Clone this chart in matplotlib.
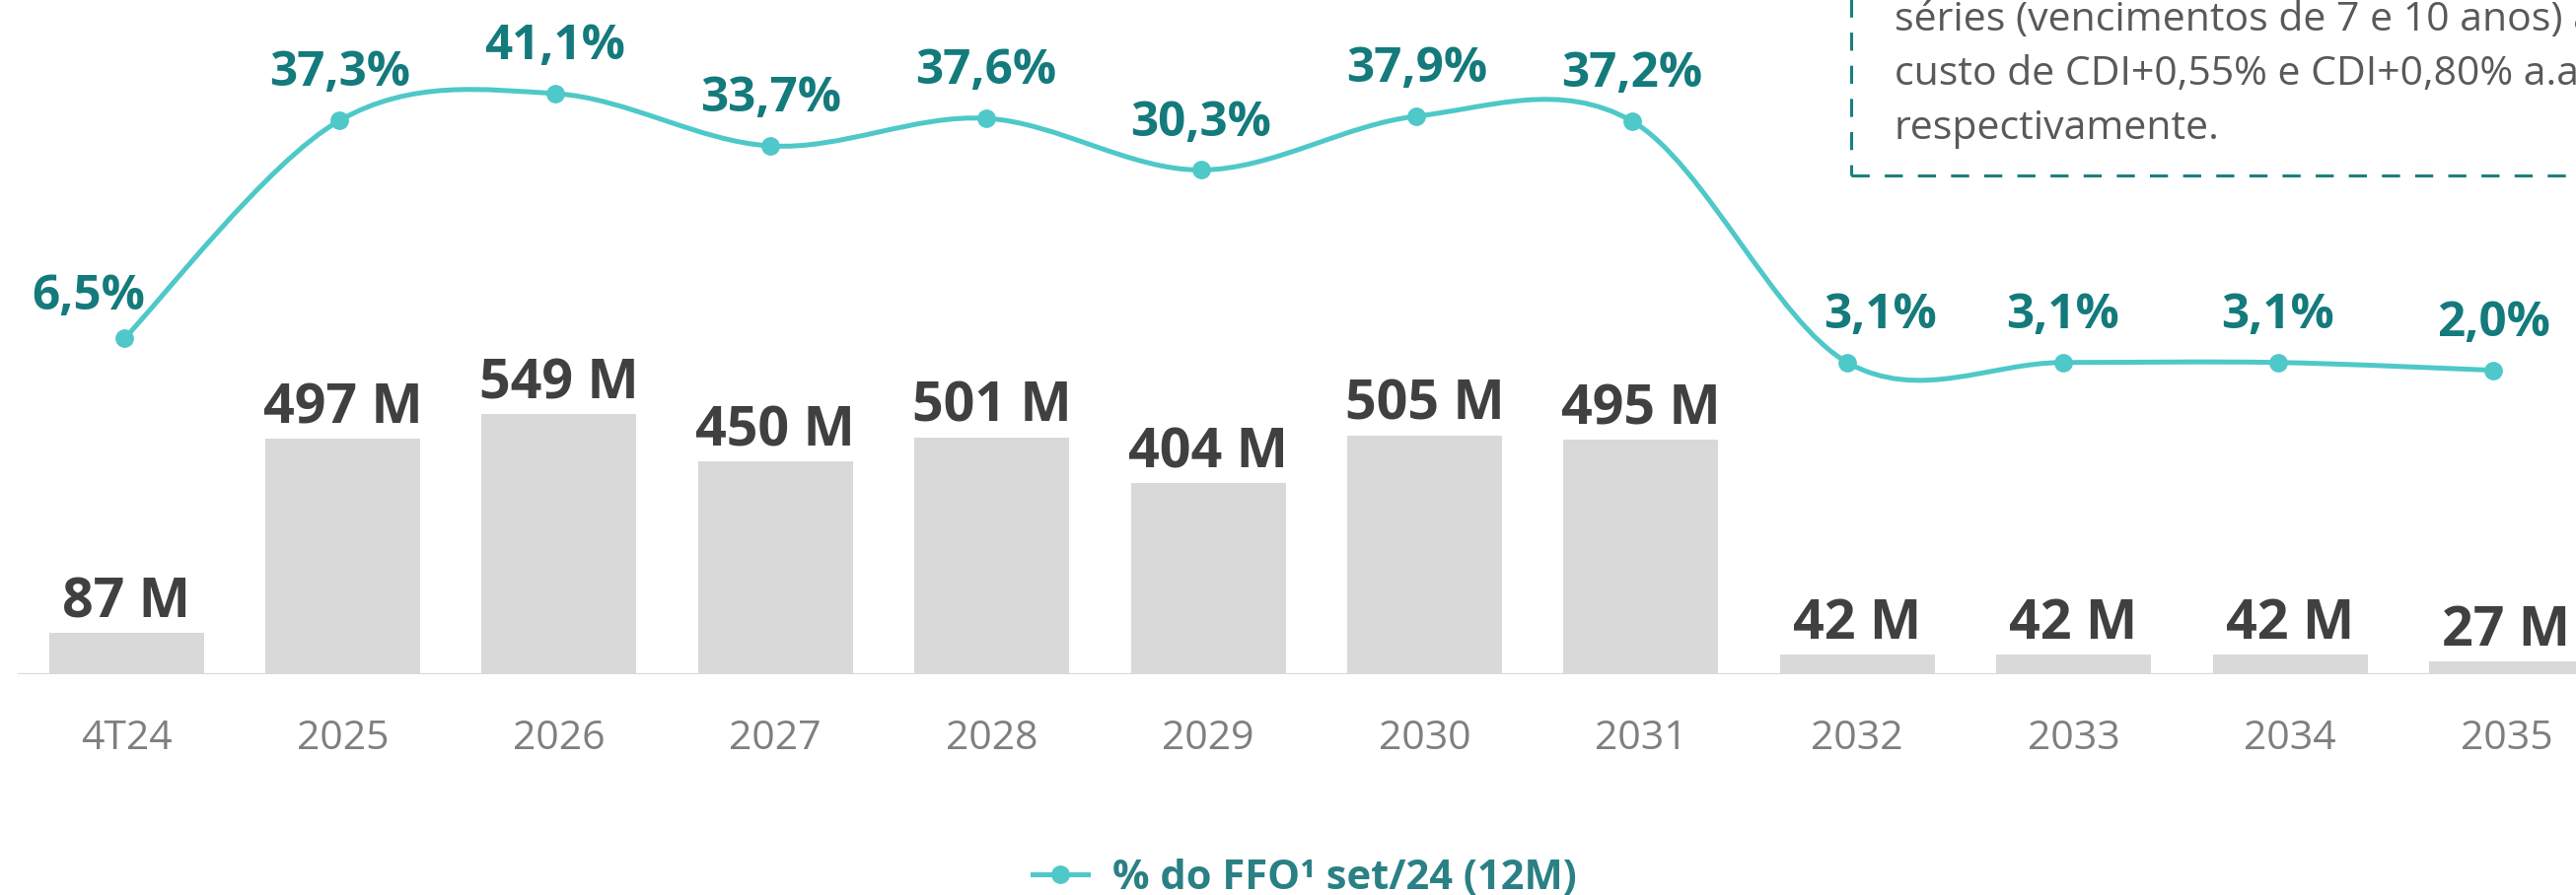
import numpy as np
import matplotlib
matplotlib.use("Agg")
import matplotlib.pyplot as plt
from matplotlib.path import Path
from matplotlib.patches import PathPatch, Rectangle
from matplotlib.lines import Line2D

plt.rcParams["font.family"] = ["Open Sans", "DejaVu Sans"]

# data
periods = ["4T24", "2025", "2026", "2027", "2028", "2029",
           "2030", "2031", "2032", "2033", "2034", "2035"]
amort_m = [87, 497, 549, 450, 501, 404, 505, 495, 42, 42, 42, 27]
ffo_pct = [6.5, 37.3, 41.1, 33.7, 37.6, 30.3, 37.9, 37.2, 3.1, 3.1, 3.1, 2.0]

note_lines = ["séries (vencimentos de 7 e 10 anos) ao",
              "custo de CDI+0,55% e CDI+0,80% a.a.,",
              "respectivamente."]
legend_label = "% do FFO¹ set/24 (12M)"

# colors
C = {
    "bar":   "#D9D9D9",
    "axis":  "#D9D9D9",
    "line":  "#4EC8C8",
    "pct":   "#147A7C",
    "val":   "#404040",
    "tick":  "#7F7F7F",
    "note":  "#595959",
    "box":   "#1A8080",
    "leg":   "#2A8084",
}

W, H = 2612, 908
fig = plt.figure(figsize=(W / 100, H / 100), dpi=100)
fig.patch.set_facecolor("white")

base_px = 684
rect = [0, (H - base_px) / H, 1, base_px / H]
ax = fig.add_axes(rect)
x = np.arange(len(periods))
step = 219.4
ax.set_xlim(-128 / step, (W - 128) / step)
ax.set_ylim(0, base_px / 0.48)

ax.bar(x, amort_m, width=157 / step, color=C["bar"], zorder=2)
ax.axhline(0, xmin=19 / W, xmax=1, color=C["axis"], lw=1.6, zorder=3)

for xi, v in zip(x, amort_m):
    ax.annotate(f"{v} M", (xi, v), xytext=(0, 2), textcoords="offset points",
                ha="center", va="bottom", fontsize=40, fontweight="bold",
                color=C["val"], zorder=5)

ax.set_xticks(x)
ax.set_xticklabels(periods, fontsize=29.5, color=C["tick"])
ax.tick_params(axis="x", length=0, pad=33)
ax.set_yticks([])
for s in ax.spines.values():
    s.set_visible(False)
ax.patch.set_alpha(0)

# line on its own overlay axes (slightly narrower x scale, as in the source)
ax2 = fig.add_axes(rect)
ax2.patch.set_alpha(0)
lstep = 218.4
ax2.set_xlim(-126 / lstep, (W - 126) / lstep)
ax2.set_ylim(-294 / 7.18, 390 / 7.18)
ax2.axis("off")

# Excel-like smoothing: Catmull-Rom as cubic Bezier
pts = np.column_stack([x, ffo_pct]).astype(float)
ext = np.vstack([pts[0], pts, pts[-1]])
verts = [tuple(pts[0])]
codes = [Path.MOVETO]
for i in range(len(pts) - 1):
    p0, p1, p2, p3 = ext[i], ext[i + 1], ext[i + 2], ext[i + 3]
    verts += [tuple(p1 + (p2 - p0) / 6), tuple(p2 - (p3 - p1) / 6), tuple(p2)]
    codes += [Path.CURVE4] * 3
ax2.add_patch(PathPatch(Path(verts, codes), fill=False, edgecolor=C["line"],
                        lw=3.6, capstyle="round", zorder=4))
ax2.plot(x, ffo_pct, "o", color=C["line"], ms=12.5, zorder=5)

offsets = {0: (-26, 30), 8: (24, 34)}
for i, (xi, v) in enumerate(zip(x, ffo_pct)):
    dx, dy = offsets.get(i, (0, 34))
    ax2.annotate(f"{v:.1f}%".replace(".", ","), (xi, v), xytext=(dx, dy),
                 textcoords="offset points", ha="center", va="center",
                 fontsize=35.5, fontweight="bold", color=C["pct"], zorder=6)

# legend
handle = Line2D([], [], color=C["line"], lw=3.6, marker="o", ms=12.5)
fig.legend([handle], [legend_label], loc="center",
           bbox_to_anchor=(1323 / W, 17 / H), frameon=False,
           prop=dict(size=30, weight="bold"), labelcolor=C["leg"],
           handlelength=1.35, handletextpad=0.6)

# dashed note box, cut by the figure edge like in the source slide
fig.patches.append(Rectangle((1877 / W, (H - 178) / H), 0.4, 0.3,
                             transform=fig.transFigure, fill=False,
                             edgecolor=C["box"], lw=2.2,
                             linestyle=(0, (6, 5)), zorder=1))
for k, line in enumerate(note_lines):
    fig.text(1921 / W, (H - 31 - 55 * k) / H, line, fontsize=29.5,
             color=C["note"], ha="left", va="baseline")

fig.savefig("out.png", dpi=100, facecolor="white")
